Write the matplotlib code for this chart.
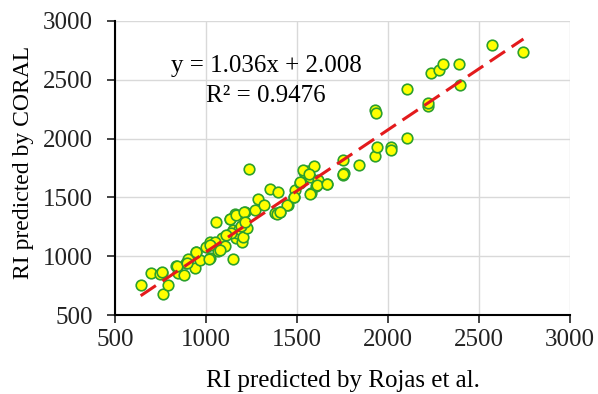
import numpy as np
import matplotlib
matplotlib.use('Agg')
import matplotlib.pyplot as plt

# valores
rojas = [641, 698, 758, 745, 762, 789, 837, 844, 877, 892, 899, 941, 947, 968,
         1000, 1020, 1023, 1051, 1064, 1053, 1087, 1106, 1130, 1146, 1151, 1161,
         1166, 1173, 1184, 1197, 1206, 1210, 1212, 1225, 1238, 1270, 1285, 1316,
         1351, 1380, 1395, 1404, 1450, 1481, 1490, 1518, 1539, 1563, 1572, 1576,
         1596, 1605, 1618, 1664, 1755, 1759, 1755, 1840, 1926, 1939, 1929, 1935,
         2015, 2017, 2103, 2103, 2222, 2222, 2235, 2282, 2301, 2392, 2396, 2572,
         2744,
         756, 839, 894, 943, 1016, 1049, 1077, 1022, 1131, 1165, 1208, 1388,
         1443, 1534, 1567, 1516, 1608, 1663, 1571, 1750, 1483, 1406, 1190, 1140,
         1110, 1215]
coral = [757, 862, 862, 851, 681, 755, 921, 856, 842, 941, 975, 904, 1040, 969,
         1083, 984, 1125, 1111, 1049, 1289, 1153, 1088, 1314, 975, 1224, 1357,
         1153, 1196, 1230, 1125, 1167, 1275, 1380, 1238, 1739, 1394, 1484, 1436,
         1572, 1365, 1543, 1374, 1439, 1507, 1563, 1626, 1719, 1727, 1676, 1541,
         1767, 1597, 1648, 1614, 1818, 1710, 1690, 1773, 1852, 1931, 2242, 2214,
         1931, 1903, 2007, 2423, 2276, 2299, 2559, 2581, 2632, 2629, 2454, 2793,
         2731,
         869, 917, 940, 1038, 982, 1123, 1052, 1094, 1315, 1349, 1377, 1363,
         1433, 1729, 1701, 1630, 1602, 1617, 1532, 1696, 1503, 1376, 1260, 1200,
         1180, 1290]

pendiente = 1.036
ordenada = 2.008
r2 = 0.9476

plt.rcParams['font.family'] = ['Liberation Serif', 'DejaVu Serif']

fig = plt.figure(figsize=(5.98, 3.94), dpi=100)
ax = fig.add_axes([0.1923, 0.1997, 0.7609, 0.7478])

ax.scatter(rojas, coral, s=58, facecolor='#ffff00', edgecolor='#2ca02c',
           linewidth=1.2, zorder=3)

# linea de tendencia
x_lin = np.array([min(rojas), max(rojas)])
ax.plot(x_lin, pendiente * x_lin + ordenada, color='#e31a1c', lw=2.2,
        dashes=(6, 2.6), zorder=4)

ax.set_xlim(500, 3000)
ax.set_ylim(500, 3000)
ax.set_xticks(range(500, 3001, 500))
ax.set_yticks(range(500, 3001, 500))
ax.grid(True, color='#d9d9d9', lw=1)
ax.set_axisbelow(True)
for lado in ['top', 'right']:
    ax.spines[lado].set_visible(False)
ax.spines['left'].set_linewidth(1.5)
ax.spines['bottom'].set_linewidth(1.5)
ax.tick_params(direction='out', length=6, width=1.2, labelsize=18, colors='#222222')
ax.tick_params(axis='y', pad=10)
ax.tick_params(axis='x', pad=4)

ax.set_xlabel('RI predicted by Rojas et al.', fontsize=18)
ax.set_ylabel('RI predicted by CORAL', fontsize=17)
ax.xaxis.set_label_coords(0.5, -0.185)
ax.yaxis.set_label_coords(-0.178, 0.52)

ax.text(1333, 2618, 'y = %.3fx + %.3f' % (pendiente, ordenada), fontsize=18,
        ha='center', va='center')
ax.text(1328, 2364, 'R² = %.4f' % r2, fontsize=18, ha='center', va='center')

fig.savefig('out.png', dpi=100)
